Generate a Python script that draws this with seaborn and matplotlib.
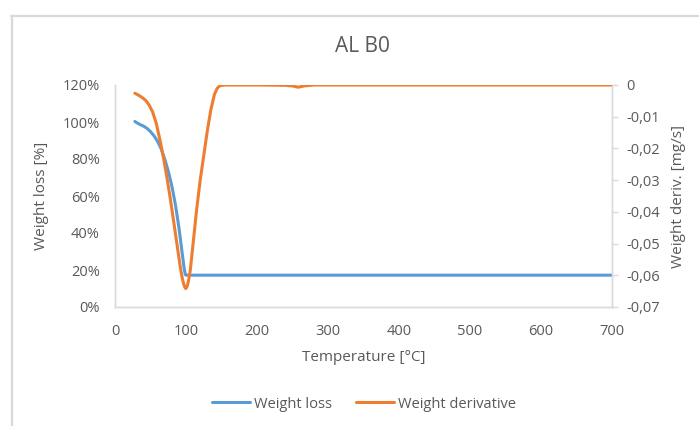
import matplotlib
matplotlib.use("Agg")
import matplotlib.pyplot as plt
from matplotlib.lines import Line2D
from matplotlib.ticker import FuncFormatter
import seaborn as sns
import pandas as pd

# Thermogravimetric run of sample AL B0
title = "AL B0"

loss_temp = [28, 32, 36, 40, 45, 50, 55, 60, 65, 70, 75, 80, 85, 90, 94, 97, 99, 100.5,
             150, 300, 500, 700]
loss_pct = [100.3, 99.3, 98.5, 97.8, 96.6, 94.8, 92.5, 89.5, 85.5, 80, 73.5, 65.5, 55.5, 43,
            31, 22, 17.5, 17.2, 17.2, 17.2, 17.2, 17.2]

deriv_temp = [28, 33, 38, 43, 48, 53, 58, 63, 68, 73, 78, 83, 88, 92, 95, 97.5, 99.5, 101.5,
              103.5, 106, 110, 115, 120, 125, 130, 135, 140, 144, 148, 155,
              200, 240, 250, 258, 266, 280, 400, 550, 700]
deriv_val = [-0.0026, -0.0032, -0.0039, -0.0048, -0.0063, -0.0085, -0.0120, -0.0170, -0.0226,
             -0.0290, -0.0360, -0.0436, -0.0513, -0.0575, -0.0612, -0.0633, -0.0642, -0.0636,
             -0.0618, -0.0585, -0.0500, -0.0392, -0.0300, -0.0222, -0.0145, -0.0078, -0.0030,
             -0.0010, -0.0002, 0.0,
             0.0, -0.0001, -0.0003, -0.0007, -0.0003, 0.0, 0.0, 0.0, 0.0]

x_ticks = [0, 100, 200, 300, 400, 500, 600, 700]
left_ticks = [0, 20, 40, 60, 80, 100, 120]
right_ticks = [0, -0.01, -0.02, -0.03, -0.04, -0.05, -0.06, -0.07]

BLUE = "#5B9BD5"
ORANGE = "#ED7D31"
TEXT = "#595959"
LINE = "#D9D9D9"

sns.set_theme(style="white")
plt.rcParams["font.family"] = ["Open Sans", "DejaVu Sans"]

loss_df = pd.DataFrame({"T": loss_temp, "W": loss_pct})
deriv_df = pd.DataFrame({"T": deriv_temp, "D": deriv_val})

fig = plt.figure(figsize=(6.99, 4.26), dpi=100)
ax = fig.add_axes([115 / 699, 1 - 307 / 426, (612 - 115) / 699, (307 - 85) / 426])
ax2 = ax.twinx()

line_kw = dict(linewidth=2.2, sort=False, solid_joinstyle="round", solid_capstyle="round")
sns.lineplot(data=loss_df, x="T", y="W", ax=ax, color=BLUE, **line_kw)
sns.lineplot(data=deriv_df, x="T", y="D", ax=ax2, color=ORANGE, **line_kw)

ax.set_xlim(0, 700)
ax.set_ylim(0, 120)
ax2.set_ylim(-0.07, 0)
ax.set_xticks(x_ticks)
ax.set_yticks(left_ticks)
ax2.set_yticks(right_ticks)
ax.yaxis.set_major_formatter(FuncFormatter(lambda v, p: f"{v:.0f}%"))
ax2.yaxis.set_major_formatter(
    FuncFormatter(lambda v, p: "0" if abs(v) < 1e-9 else f"{v:.2f}".replace(".", ",")))

for a in (ax, ax2):
    a.spines["top"].set_visible(False)
    for side in ("left", "bottom", "right"):
        a.spines[side].set_color(LINE)
        a.spines[side].set_linewidth(1.0)
    a.grid(False)

ax.tick_params(axis="both", length=0, labelsize=10.5, labelcolor=TEXT)
ax.tick_params(axis="y", pad=11)
ax.tick_params(axis="x", pad=12)
ax2.tick_params(axis="y", direction="out", length=4, width=1, color=LINE,
                labelsize=10.5, labelcolor=TEXT, pad=6)

ax.set_xlabel("Temperature [°C]", fontsize=11, color=TEXT, labelpad=8)
ax.set_ylabel("Weight loss [%]", fontsize=11, color=TEXT, labelpad=10)
ax2.set_ylabel("Weight deriv. [mg/s]", fontsize=11, color=TEXT, labelpad=8)

fig.text(362 / 699, 1 - 46 / 426, title, ha="center", va="center", fontsize=15, color=TEXT)

handles = [Line2D([], [], color=BLUE, linewidth=2.2),
           Line2D([], [], color=ORANGE, linewidth=2.2)]
fig.legend(handles, ["Weight loss", "Weight derivative"], loc="center",
           bbox_to_anchor=(364 / 699, 1 - 404 / 426), ncol=2, frameon=False,
           fontsize=10.5, labelcolor=TEXT, handlelength=2.6, handletextpad=0.3,
           columnspacing=1.6)

# chart-area frame edges
fig.add_artist(Line2D([11 / 699, 1], [1 - 15.5 / 426, 1 - 15.5 / 426],
                      transform=fig.transFigure, color=LINE, linewidth=1.6))
fig.add_artist(Line2D([11.5 / 699, 11.5 / 699], [0, 1 - 15.5 / 426],
                      transform=fig.transFigure, color=LINE, linewidth=1.6))

fig.savefig("out.png", dpi=100)
